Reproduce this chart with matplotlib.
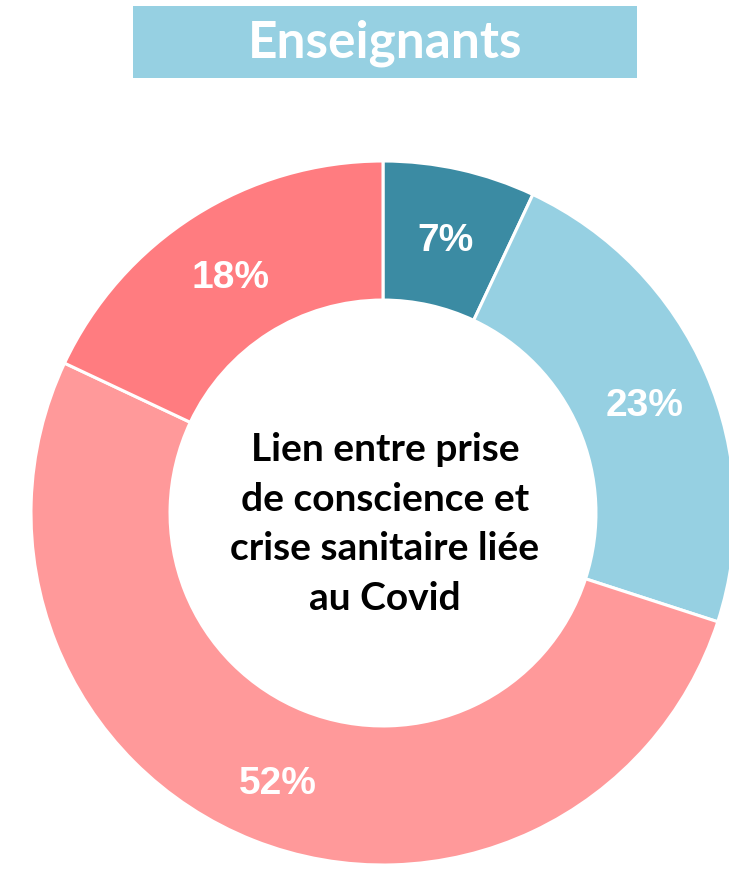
import matplotlib.pyplot as plt
from matplotlib.patches import Rectangle

# Data
categories = ['A', 'B', 'C', 'D']
shares = [7, 23, 52, 18]
colors = ['#3B8BA3', '#96D0E2', '#FF999A', '#FF7C80']
title = 'Enseignants'
center_text = 'Lien entre prise\nde conscience et\ncrise sanitaire liée\nau Covid'

W, H = 729, 874
fig = plt.figure(figsize=(W / 100, H / 100), dpi=100)
ax = fig.add_axes([0, 0, 1, 1])
ax.set_xlim(0, W)
ax.set_ylim(0, H)
ax.set_aspect('equal')
ax.axis('off')

# title box
ax.add_patch(Rectangle((133, H - 78), 504, 72, facecolor='#96D0E2', edgecolor='none'))
ax.text(385, H - 43, title, ha='center', va='center', color='white',
        fontsize=37, fontweight='bold', family='Lato')

# donut
cx, cy, r = 383, H - 513, 352
wedges, texts, autotexts = ax.pie(
    shares, colors=colors, startangle=90, counterclock=False,
    center=(cx, cy), radius=r, autopct=lambda p: f'{p:.0f}%', pctdistance=0.81,
    wedgeprops=dict(width=r * 0.395, edgecolor='white', linewidth=2.2),
    textprops=dict(color='white', fontsize=28, fontweight='bold', family='Liberation Sans'))
# small nudges so the labels sit where the original has them
for t in autotexts:
    x, y = t.get_position()
    t.set_position((x, y - 6))
ax.set_xlim(0, W)
ax.set_ylim(0, H)

ax.text(cx + 2, H - 524, center_text, ha='center', va='center', color='black',
        fontsize=28, fontweight='bold', family='Lato', linespacing=1.5)

fig.savefig('out.png', dpi=100)
